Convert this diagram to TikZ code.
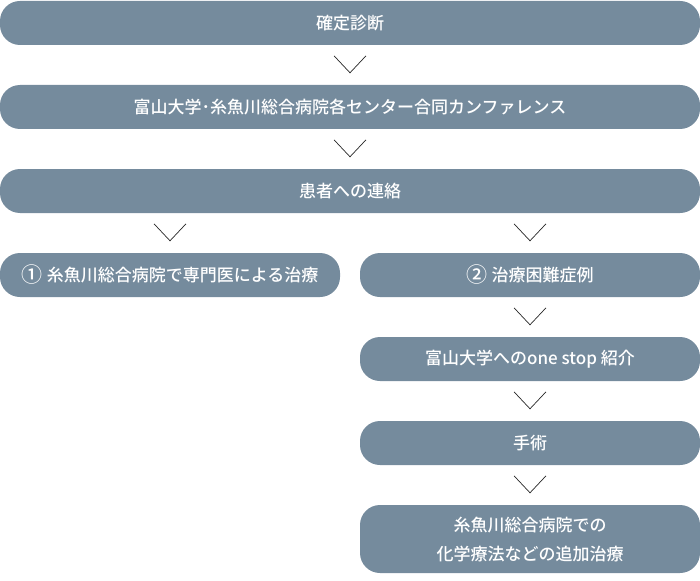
\documentclass[tikz,border=0pt]{standalone}
\usepackage{fontspec}
\usetikzlibrary{calc}
\newfontfamily\jp{Noto Sans CJK JP Medium}
\definecolor{boxc}{RGB}{117,139,157}
\newcommand{\circnum}[1]{\raisebox{-1.2pt}{\fontsize{21}{21}\selectfont #1}}
\begin{document}
\begin{tikzpicture}[x=1pt,y=-1pt,
 box/.style={fill=boxc, rounded corners=20pt, text=white, font=\jp\fontsize{17}{29}\selectfont, minimum height=44pt, inner sep=0pt, align=center},
 chev/.style={draw=black!85, line width=0.7pt}]
\useasboundingbox (0,0) rectangle (700,580);
\node[box, minimum width=700pt] (a) at (350,23) {確定診断};
\node[box, minimum width=700pt] (b) at (350,107) {富山大学･糸魚川総合病院各センター合同カンファレンス};
\node[box, minimum width=700pt] (c) at (350,191) {患者への連絡};
\node[box, minimum width=340pt] (d) at (170,275) {\circnum{①}\hspace{0.25em}糸魚川総合病院で専門医による治療};
\node[box, minimum width=340pt] (e) at (530,275) {\circnum{②}\hspace{0.25em}治療困難症例};
\node[box, minimum width=340pt] (f) at (530,359) {富山大学へのone stop 紹介};
\node[box, minimum width=340pt] (g) at (530,443) {手術};
\node[box, minimum width=340pt, minimum height=68pt] (h) at (530,539) {糸魚川総合病院での\\化学療法などの追加治療};
\foreach \n in {b,c,d,e,f,g,h}{
  \draw[chev] ($(\n.north)+(-16,-29)$) -- ($(\n.north)+(0,-12)$) -- ($(\n.north)+(16,-29)$);
}
\end{tikzpicture}
\end{document}
